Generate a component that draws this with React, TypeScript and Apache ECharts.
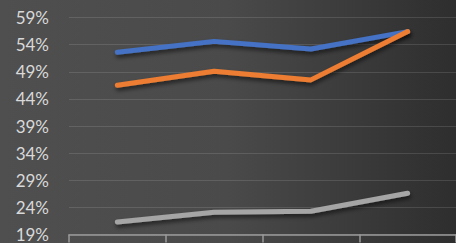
import React, { useEffect, useRef } from "react";
import * as echarts from "echarts";

const categories = ["1", "2", "3", "4"];
const blueSeries = [52.6, 54.6, 53.2, 56.4];
const orangeSeries = [46.5, 49.1, 47.5, 56.4];
const graySeries = [21.3, 23.1, 23.3, 26.6];
const yMin = 19;
const yMax = 59;
const yStep = 5;

export default function App() {
  const ref = useRef<HTMLDivElement>(null);
  useEffect(() => {
    document.body.style.margin = "0";
    const chart = echarts.init(ref.current!, undefined, { renderer: "svg" });
    const lineShadow = {
      width: 5,
      cap: "round" as const,
      join: "round" as const,
      shadowColor: "rgba(0,0,0,0.55)",
      shadowBlur: 4,
      shadowOffsetY: 3,
      shadowOffsetX: 1,
    };
    const mk = (name: string, data: number[], color: string) => ({
      name,
      type: "line",
      data,
      symbol: "none",
      smooth: false,
      lineStyle: { ...lineShadow, color },
      itemStyle: { color },
    });
    chart.setOption({
      animation: false,
      backgroundColor: {
        type: "linear",
        x: 0,
        y: 0,
        x2: 1,
        y2: 0,
        colorStops: [
          { offset: 0, color: "#4f4f4f" },
          { offset: 0.5, color: "#4a4a4a" },
          { offset: 1, color: "#2e2e2e" },
        ],
      },
      grid: { left: 69, right: -2, top: 17.5, bottom: 7.3, containLabel: false },
      xAxis: {
        type: "category",
        data: categories,
        boundaryGap: true,
        axisLine: { show: true, lineStyle: { color: "#9a9a9a", width: 1.5 } },
        axisTick: { show: true, length: 8, lineStyle: { color: "#9a9a9a", width: 1.5 } },
        axisLabel: { show: false },
        splitLine: { show: false },
      },
      yAxis: {
        type: "value",
        min: yMin,
        max: yMax,
        interval: yStep,
        axisLine: { show: false },
        axisTick: { show: false },
        axisLabel: {
          formatter: "{value}%",
          color: "#d9d9d9",
          fontSize: 17,
          fontFamily: "Lato",
          margin: 20,
        },
        splitLine: { show: true, lineStyle: { color: "rgba(255,255,255,0.12)", width: 1 } },
      },
      series: [
        mk("Blue", blueSeries, "#4472C4"),
        mk("Orange", orangeSeries, "#ED7D31"),
        mk("Gray", graySeries, "#A5A5A5"),
      ],
    });
    return () => chart.dispose();
  }, []);
  return (
    <div
      ref={ref}
      style={{ position: "fixed", left: 0, top: 0, width: 456, height: 243 }}
    />
  );
}
